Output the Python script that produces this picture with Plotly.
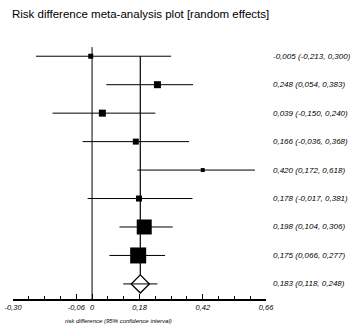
import plotly.graph_objects as go

# ---- data ----
estimates = [-0.005, 0.248, 0.039, 0.166, 0.420, 0.178, 0.198, 0.175]
lower = [-0.213, 0.054, -0.150, -0.036, 0.172, -0.017, 0.104, 0.066]
upper = [0.300, 0.383, 0.240, 0.368, 0.618, 0.381, 0.306, 0.277]
pooled_est = 0.183
pooled_lo = 0.118
pooled_hi = 0.248
tick_vals = [-0.30, -0.06, 0, 0.18, 0.42, 0.66]
tick_text = ["-0,30", "-0,06", "0", "0,18", "0,42", "0,66"]
title_text = "Risk difference meta-analysis plot [random effects]"
axis_title = "risk difference (95% confidence interval)"

# ---- style ----
marker_sizes = [5, 7, 7, 6, 4, 6, 15, 16]
FONT = "Liberation Sans, Arial, sans-serif"

def fmt(v):
    return f"{v:.3f}".replace(".", ",")

n = len(estimates)
rows = list(range(1, n + 1))
pooled_row = n + 1

fig = go.Figure()

# CI lines
for r, lo, hi in zip(rows, lower, upper):
    fig.add_trace(go.Scatter(x=[lo, hi], y=[r, r], mode="lines",
                             line=dict(color="black", width=1), hoverinfo="skip"))
fig.add_trace(go.Scatter(x=[pooled_lo, pooled_hi], y=[pooled_row, pooled_row], mode="lines",
                         line=dict(color="black", width=1), hoverinfo="skip"))

# reference lines
fig.add_trace(go.Scatter(x=[0, 0], y=[0.68, 9.53], mode="lines",
                         line=dict(color="black", width=1), hoverinfo="skip"))
fig.add_trace(go.Scatter(x=[pooled_est, pooled_est], y=[1, pooled_row - 0.32], mode="lines",
                         line=dict(color="black", width=1.2), hoverinfo="skip"))

# point estimates
fig.add_trace(go.Scatter(x=estimates, y=rows, mode="markers",
                         marker=dict(symbol="square", size=marker_sizes, color="black",
                                     opacity=1, line=dict(width=0))))
# pooled diamond
fig.add_trace(go.Scatter(x=[pooled_est], y=[pooled_row], mode="markers",
                         marker=dict(symbol="diamond-open", size=14, color="black", opacity=1,
                                     line=dict(width=1.3, color="black"))))

annotations = []
for r, e, lo, hi in zip(rows, estimates, lower, upper):
    annotations.append(dict(x=1.02, xref="paper", y=r, yref="y", xanchor="left",
                            text=f"<i>{fmt(e)} ({fmt(lo)}, {fmt(hi)})</i>", showarrow=False,
                            font=dict(family=FONT, size=8, color="black")))
annotations.append(dict(x=1.02, xref="paper", y=pooled_row, yref="y", xanchor="left",
                        text=f"<i>{fmt(pooled_est)} ({fmt(pooled_lo)}, {fmt(pooled_hi)})</i>",
                        showarrow=False, font=dict(family=FONT, size=8, color="black")))
annotations.append(dict(x=0.102, xref="x", y=-0.085, yref="paper", xanchor="center",
                        yanchor="middle", text=f"<i>{axis_title}</i>", showarrow=False,
                        font=dict(family=FONT, size=6, color="black")))

fig.update_layout(
    width=350, height=331,
    margin=dict(l=13, r=84, t=42, b=32),
    paper_bgcolor="white", plot_bgcolor="white",
    font=dict(family=FONT, color="black"),
    showlegend=False,
    title=dict(text=title_text, x=12 / 350, xanchor="left", y=1 - 14 / 331, yanchor="middle",
               font=dict(family=FONT, size=11.5, color="black")),
    xaxis=dict(range=[-0.30, 0.66], tickvals=tick_vals,
               ticktext=[f"<i>{t}</i>" for t in tick_text],
               tickfont=dict(family=FONT, size=7.5, color="black"),
               automargin=False,
               showgrid=False, zeroline=False, showline=True, linecolor="black", linewidth=1.5,
               ticks="inside", ticklen=5, tickwidth=1, tickcolor="black",
               minor=dict(tickvals=[-0.24, -0.18, -0.12, 0.06, 0.12, 0.24, 0.30, 0.36, 0.48, 0.54, 0.60],
                          ticks="inside", ticklen=3, tickwidth=1, tickcolor="black"),
               fixedrange=True),
    yaxis=dict(range=[9.53, 0.5], visible=False, showgrid=False, zeroline=False,
               automargin=False, fixedrange=True),
    annotations=annotations,
)

fig.write_html("out.html")
